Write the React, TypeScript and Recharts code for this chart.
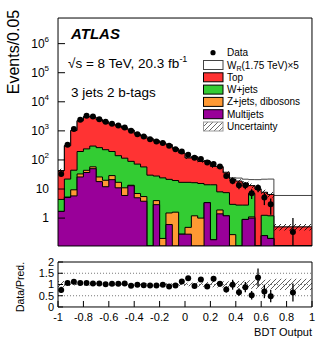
import React from "react";
import { Area, ComposedChart, ErrorBar, ReferenceLine, Scatter, XAxis, YAxis } from "recharts";

const FONT = '"Liberation Sans", Arial, Helvetica, sans-serif';

// lower bin edges, last bin is the merged 0.7 - 1.0 one
const BIN_LO = [
  -1, -0.95, -0.9, -0.85, -0.8, -0.75, -0.7, -0.65, -0.6, -0.55, -0.5, -0.45, -0.4, -0.35, -0.3, -0.25, -0.2, -0.15,
  -0.1, -0.05, 0, 0.05, 0.1, 0.15, 0.2, 0.25, 0.3, 0.35, 0.4, 0.45, 0.5, 0.55, 0.6, 0.65, 0.7,
];
const BIN_END = 1;

const multijets = [
  1.7, 5.1, 5.8, 26, 37, 50, 18, 12, 21, 11, 6, 13, 5, 3.8, 0, 2.9, 0, 0.6, 0, 0.28, 0.28, 0, 0, 3.4, 0.18, 1.4, 1.2,
  0, 0, 0.9, 1.0, 0, 0.25, 0.2, 0,
];
const zjets = [
  0, 0.2, 3.6, 7, 7, 8, 8, 8, 8, 6, 5, 0.5, 2, 1.7, 0, 1.1, 0.2, 0.9, 1.6, 0, 0.2, 1.2, 1.0, 0, 0, 0.5, 0, 0.27, 0, 0,
  0.1, 0, 0, 0, 0,
];
const wjets = [
  2.7, 16.7, 35, 162, 196, 242, 239, 205, 166, 123, 104, 76, 65, 52, 30, 24, 24, 20, 18, 16.7, 16.5, 15.3, 14.5, 10.6,
  13.8, 6.1, 6.3, 2.7, 2.8, 1.9, 6, 0, 1.0, 1.0, 0,
];
const ttbar = [
  38.6, 286, 986, 2045, 2840, 2680, 2185, 1805, 1505, 1335, 1135, 970, 708, 602, 510, 422, 361, 313, 225, 156, 100, 112,
  74, 76, 46, 50, 28.5, 19, 16, 13, 6, 10, 6.5, 5.3, 0.5,
];
// W_R (1.75 TeV), drawn scaled x5 on top of the background
const wprime = [
  0, 0, 0, 0, 0, 0, 0, 0, 0, 0, 0, 0, 0, 0, 0, 0, 0, 0, 0, 0, 0, 0.05, 0.08, 0.1, 0.15, 0.25, 0.4, 0.5, 1.0, 1.2, 1.6,
  2.2, 2.8, 3.1, 1.1,
];
const relUnc = [
  0.15, 0.07, 0.04, 0.04, 0.04, 0.04, 0.04, 0.04, 0.04, 0.04, 0.04, 0.04, 0.04, 0.04, 0.05, 0.05, 0.05, 0.05, 0.06,
  0.07, 0.08, 0.09, 0.1, 0.11, 0.12, 0.13, 0.14, 0.15, 0.16, 0.18, 0.19, 0.2, 0.21, 0.22, 0.25,
];
const dataVals = [
  33, 330, 1150, 2400, 3300, 3100, 2500, 2050, 1750, 1520, 1300, 1000, 770, 640, 520, 430, 380, 305, 235, 195, 150, 120,
  107, 82, 72, 60, 28, 19, 13.5, 13.5, 7.2, 11, 5.1, 3.0, 0.33,
];
const dataErr = [
  6, 18, 34, 49, 57, 56, 50, 45, 42, 39, 36, 32, 28, 25, 23, 21, 19, 17, 15, 14, 12, 11, 10, 9, 8.5, 7.7, 5.3, 4.4, 3.7,
  3.7, 2.7, 3.3, 2.3, 1.7, 0.67,
];
const ratioVals = [
  0.76, 1.07, 1.12, 1.07, 1.07, 1.04, 1.04, 1.01, 1.03, 1.03, 1.04, 0.94, 0.99, 0.97, 0.96, 0.96, 0.99, 0.91, 0.96, 1.13,
  1.28, 0.93, 1.22, 0.91, 1.25, 1.03, 0.78, 0.99, 0.66, 0.88, 0.52, 1.31, 0.69, 0.48, 0.64,
];
const ratioErr = [
  0.14, 0.06, 0.04, 0.03, 0.03, 0.03, 0.03, 0.03, 0.03, 0.03, 0.03, 0.03, 0.04, 0.04, 0.04, 0.05, 0.05, 0.05, 0.06, 0.08,
  0.1, 0.09, 0.11, 0.1, 0.13, 0.13, 0.14, 0.22, 0.17, 0.23, 0.19, 0.4, 0.3, 0.27, 0.4,
];

const X_TICKS = [-1, -0.8, -0.6, -0.4, -0.2, 0, 0.2, 0.4, 0.6, 0.8, 1];
const X_MINOR = Array.from({ length: 51 }, (_, k) => Math.round((-1 + 0.04 * k) * 100) / 100);
const LOG_TICKS = [1, 10, 100, 1000, 10000, 100000, 1000000];
const RATIO_TICKS = [0, 0.5, 1, 1.5, 2];
const RATIO_MINOR = Array.from({ length: 21 }, (_, k) => k / 10);

const Y_MIN = 0.11;
const Y_MAX = 7.6e6;
const LOG_MINOR = [0.1, 1, 10, 100, 1000, 10000, 100000, 1000000]
  .flatMap((d) => [2, 3, 4, 5, 6, 7, 8, 9].map((m) => d * m))
  .filter((v) => v > Y_MIN && v < Y_MAX);

const LEGEND_LABELS = ["Data", "W_R(1.75 TeV)×5", "Top", "W+jets", "Z+jets, dibosons", "Multijets", "Uncertainty"];
const COLORS = { top: "#ff3333", wjets: "#33cc33", zjets: "#ff9933", mj: "#990099" };

// axes need a non-zero size to be drawn; keep it tiny so they all sit on the frame
const AX = 0.01;

const clampLog = (v: number) => Math.max(v, Y_MIN);
const binHi = (i: number) => (i < BIN_LO.length - 1 ? BIN_LO[i + 1] : BIN_END);

const stackRows: any[] = BIN_LO.map((lo, i) => {
  const mj = multijets[i];
  const z = mj + zjets[i];
  const w = z + wjets[i];
  const t = w + ttbar[i];
  return {
    x: lo,
    mj: clampLog(mj),
    z: clampLog(z),
    w: clampLog(w),
    t: clampLog(t),
    sig: clampLog(t + 5 * wprime[i]),
    unc: [clampLog(t * (1 - relUnc[i])), clampLog(t * (1 + relUnc[i]))],
  };
});
stackRows.push({ ...stackRows[stackRows.length - 1], x: BIN_END });

const dataPoints = BIN_LO.map((lo, i) => ({
  x: (lo + binHi(i)) / 2,
  y: dataVals[i],
  err: [Math.min(dataErr[i], dataVals[i] - Y_MIN), dataErr[i]],
}));

const ratioRows: any[] = BIN_LO.map((lo, i) => ({ x: lo, band: [1 - relUnc[i], 1 + relUnc[i]] }));
ratioRows.push({ ...ratioRows[ratioRows.length - 1], x: BIN_END });

const ratioPoints = BIN_LO.map((lo, i) => ({ x: (lo + binHi(i)) / 2, y: ratioVals[i], err: ratioErr[i] }));

const LogTick = (props: any) => {
  const { x, y, payload } = props;
  const v = payload.value;
  const exp = Math.round(Math.log10(v));
  return (
    <text x={x} y={y} textAnchor="end" dominantBaseline="central" fontSize={12} fontFamily={FONT} fill="#000">
      {exp <= 1 ? String(v) : (
        <>
          10<tspan dy={-5} fontSize={8}>{exp}</tspan>
        </>
      )}
    </text>
  );
};

const dot = (p: any) => <circle cx={p.cx} cy={p.cy} r={3} fill="#000" />;

const Hatch = ({ id, color = "#000" }: { id: string; color?: string }) => (
  <pattern id={id} patternUnits="userSpaceOnUse" width={5} height={5}>
    <path d="M-1,1 l2,-2 M0,5 l5,-5 M4,6 l2,-2" stroke={color} strokeWidth={0.8} />
  </pattern>
);

const MainPanel = () => (
  <ComposedChart width={332} height={250} data={stackRows} margin={{ top: 18, right: 20, bottom: 4, left: 58 }}>
    <defs>
      <Hatch id="hatchMain" />
    </defs>
    <Area xAxisId="x" yAxisId="y" type="stepAfter" dataKey="sig" baseValue={Y_MIN} fill="#ffffff" fillOpacity={1}
      stroke="#444" strokeWidth={1} dot={false} activeDot={false} isAnimationActive={false} />
    <Area xAxisId="x" yAxisId="y" type="stepAfter" dataKey="t" baseValue={Y_MIN} fill={COLORS.top} fillOpacity={1}
      stroke="#000" strokeWidth={1} dot={false} activeDot={false} isAnimationActive={false} />
    <Area xAxisId="x" yAxisId="y" type="stepAfter" dataKey="w" baseValue={Y_MIN} fill={COLORS.wjets} fillOpacity={1}
      stroke="#000" strokeWidth={1} dot={false} activeDot={false} isAnimationActive={false} />
    <Area xAxisId="x" yAxisId="y" type="stepAfter" dataKey="z" baseValue={Y_MIN} fill={COLORS.zjets} fillOpacity={1}
      stroke="#000" strokeWidth={1} dot={false} activeDot={false} isAnimationActive={false} />
    <Area xAxisId="x" yAxisId="y" type="stepAfter" dataKey="mj" baseValue={Y_MIN} fill={COLORS.mj} fillOpacity={1}
      stroke="#000" strokeWidth={1} dot={false} activeDot={false} isAnimationActive={false} />
    <Area xAxisId="x" yAxisId="y" type="stepAfter" dataKey="unc" fill="url(#hatchMain)" fillOpacity={1}
      stroke="none" dot={false} activeDot={false} isAnimationActive={false} />
    <Scatter xAxisId="x" yAxisId="y" data={dataPoints} dataKey="y" shape={dot} isAnimationActive={false}>
      <ErrorBar dataKey="err" direction="y" width={0} stroke="#000" strokeWidth={1.3} />
    </Scatter>

    <XAxis xAxisId="x" dataKey="x" type="number" domain={[-1, 1]} allowDataOverflow ticks={X_TICKS} interval={0}
      tick={false} tickSize={-6} height={AX} stroke="#000" />
    <XAxis xAxisId="xm" type="number" domain={[-1, 1]} allowDataOverflow ticks={X_MINOR} interval={0}
      tick={false} tickSize={-3} height={AX} axisLine={false} stroke="#000" />
    <XAxis xAxisId="xt" orientation="top" type="number" domain={[-1, 1]} allowDataOverflow ticks={X_TICKS}
      interval={0} tick={false} tickSize={-6} height={AX} stroke="#000" />
    <XAxis xAxisId="xtm" orientation="top" type="number" domain={[-1, 1]} allowDataOverflow ticks={X_MINOR}
      interval={0} tick={false} tickSize={-3} height={AX} axisLine={false} stroke="#000" />
    <YAxis yAxisId="y" type="number" scale="log" domain={[Y_MIN, Y_MAX]} allowDataOverflow ticks={LOG_TICKS}
      interval={0} tick={<LogTick />} tickSize={-7} tickMargin={16} width={AX} stroke="#000" />
    <YAxis yAxisId="ym" type="number" scale="log" domain={[Y_MIN, Y_MAX]} allowDataOverflow ticks={LOG_MINOR}
      interval={0} tick={false} tickSize={-3.5} width={AX} axisLine={false} stroke="#000" />
    <YAxis yAxisId="yr" orientation="right" type="number" scale="log" domain={[Y_MIN, Y_MAX]} allowDataOverflow
      ticks={LOG_TICKS} interval={0} tick={false} tickSize={-7} width={AX} stroke="#000" />
    <YAxis yAxisId="yrm" orientation="right" type="number" scale="log" domain={[Y_MIN, Y_MAX]} allowDataOverflow
      ticks={LOG_MINOR} interval={0} tick={false} tickSize={-3.5} width={AX} axisLine={false} stroke="#000" />
  </ComposedChart>
);

const RatioPanel = () => (
  <ComposedChart width={332} height={94} data={ratioRows} margin={{ top: 12, right: 20, bottom: 37, left: 58 }}>
    <defs>
      <Hatch id="hatchRatio" color="#333" />
    </defs>
    <ReferenceLine xAxisId="x" yAxisId="y" y={0.5} stroke="#777" strokeDasharray="1 2" />
    <ReferenceLine xAxisId="x" yAxisId="y" y={1} stroke="#777" strokeDasharray="1 2" />
    <ReferenceLine xAxisId="x" yAxisId="y" y={1.5} stroke="#777" strokeDasharray="1 2" />
    <Area xAxisId="x" yAxisId="y" type="stepAfter" dataKey="band" fill="url(#hatchRatio)" fillOpacity={1}
      stroke="none" dot={false} activeDot={false} isAnimationActive={false} />
    <Scatter xAxisId="x" yAxisId="y" data={ratioPoints} dataKey="y" shape={dot} isAnimationActive={false}>
      <ErrorBar dataKey="err" direction="y" width={0} stroke="#000" strokeWidth={1.3} />
    </Scatter>

    <XAxis xAxisId="x" dataKey="x" type="number" domain={[-1, 1]} allowDataOverflow ticks={X_TICKS} interval={0}
      tickSize={-6} tickMargin={12} height={AX} stroke="#000" tickFormatter={(v: number) => String(v)}
      tick={{ fontSize: 11, fill: "#000", fontFamily: FONT }} />
    <XAxis xAxisId="xm" type="number" domain={[-1, 1]} allowDataOverflow ticks={X_MINOR} interval={0}
      tick={false} tickSize={-3} height={AX} axisLine={false} stroke="#000" />
    <XAxis xAxisId="xt" orientation="top" type="number" domain={[-1, 1]} allowDataOverflow ticks={X_TICKS}
      interval={0} tick={false} tickLine={false} height={AX} stroke="#000" />
    <YAxis yAxisId="y" type="number" domain={[0, 2]} allowDataOverflow ticks={RATIO_TICKS} interval={0}
      tickSize={-5} tickMargin={9} width={AX} stroke="#000" tickFormatter={(v: number) => String(v)}
      tick={{ fontSize: 11, fill: "#000", fontFamily: FONT }} />
    <YAxis yAxisId="ym" type="number" domain={[0, 2]} allowDataOverflow ticks={RATIO_MINOR} interval={0}
      tick={false} tickSize={-2.5} width={AX} axisLine={false} stroke="#000" />
    <YAxis yAxisId="yr" orientation="right" type="number" domain={[0, 2]} allowDataOverflow ticks={RATIO_TICKS}
      interval={0} tick={false} tickLine={false} width={AX} stroke="#000" />
  </ComposedChart>
);

const Overlay = () => {
  const rowY = (k: number) => 52.7 + 12.3 * k;
  const boxes = [
    null,
    { fill: "#fff", stroke: "#444" },
    { fill: COLORS.top, stroke: "#000" },
    { fill: COLORS.wjets, stroke: "#000" },
    { fill: COLORS.zjets, stroke: "#000" },
    { fill: COLORS.mj, stroke: "#000" },
    { fill: "url(#hatchLegend)", stroke: "#999" },
  ];
  return (
    <svg width={332} height={344} style={{ position: "absolute", left: 0, top: 0, pointerEvents: "none" }}
      fontFamily={FONT}>
      <defs>
        <Hatch id="hatchLegend" color="#444" />
      </defs>
      <text x={13} y={52} transform="rotate(-90 13 52)" textAnchor="middle" dominantBaseline="central" fontSize={16}>
        Events/0.05
      </text>
      <text x={20} y={287} transform="rotate(-90 20 287)" textAnchor="middle" dominantBaseline="central"
        fontSize={10.5}>
        Data/Pred.
      </text>
      <text x={312} y={336} textAnchor="end" fontSize={11}>BDT Output</text>

      <text x={71} y={38.5} fontSize={15} fontWeight="bold" fontStyle="italic">ATLAS</text>
      <text x={68} y={67.5} fontSize={13.5}>
        √s = 8 TeV, 20.3 fb<tspan dy={-6} fontSize={9}>-1</tspan>
      </text>
      <text x={71} y={96.5} fontSize={13.5}>3 jets 2 b-tags</text>

      {LEGEND_LABELS.map((label, k) => {
        const y = rowY(k);
        const b = boxes[k];
        return (
          <g key={label}>
            {b ? (
              <rect x={203.5} y={y - 4.5} width={19.5} height={9} fill={b.fill} stroke={b.stroke} strokeWidth={1} />
            ) : (
              <circle cx={213} cy={y} r={2.6} fill="#000" />
            )}
            <text x={227} y={y} dominantBaseline="central" fontSize={10}>
              {label.startsWith("W_R") ? (
                <>
                  W<tspan dy={3} fontSize={7}>R</tspan>
                  <tspan dy={-3}>{label.slice(3)}</tspan>
                </>
              ) : (
                label
              )}
            </text>
          </g>
        );
      })}
    </svg>
  );
};

const App = () => (
  <div style={{ position: "absolute", left: 0, top: 0, width: 332, height: 344, background: "#fff" }}>
    <div style={{ position: "absolute", left: 0, top: 0 }}>
      <MainPanel />
    </div>
    <div style={{ position: "absolute", left: 0, top: 250 }}>
      <RatioPanel />
    </div>
    <Overlay />
  </div>
);

export default App;
